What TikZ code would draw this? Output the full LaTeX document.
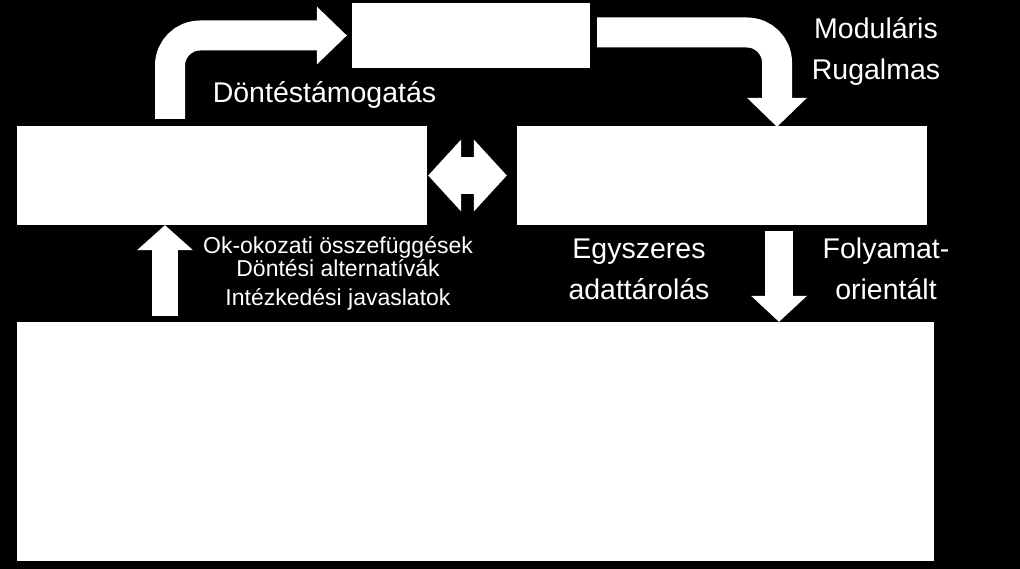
\documentclass[tikz,border=0pt]{standalone}
\usepackage{fontspec}
\setmainfont{Liberation Sans}
\usetikzlibrary{arrows.meta}

\begin{document}
\begin{tikzpicture}[x=1pt,y=-1pt,
 box/.style={fill=white,inner sep=0pt},
 blk/.style={white,line width=#1},
 lbl/.style={text=white,align=center,inner sep=0pt,font=\fontsize{28.5}{41}\selectfont},
 sml/.style={text=white,align=center,inner sep=0pt,font=\fontsize{23}{24}\selectfont}]
\fill[black] (0,0) rectangle (1020,569);
\useasboundingbox (0,0) rectangle (1020,569);
\node[box,minimum width=238,minimum height=65] (top) at (471,35.5) {};
\node[box,minimum width=410,minimum height=99] (lbox) at (222,175.5) {};
\node[box,minimum width=410,minimum height=99] (rbox) at (722,175.5) {};
\node[box,minimum width=917,minimum height=239] (bbox) at (475.5,441.5) {};
\coordinate (b1) at (170,119);
\coordinate (b2) at (597,32.5);
\coordinate (u1) at (165,316);
\coordinate (d1) at (779,231);
\draw[blk=30,rounded corners=30,-{Triangle[length=30,width=58,line width=0pt]}] (b1) |- ([xshift=-5]top.west);
\draw[blk=30,rounded corners=30,-{Triangle[length=29,width=60,line width=0pt]}] (b2) -| ([yshift=-1]rbox.north -| 777,0);
\draw[blk=37,{Triangle[length=33,width=72,line width=0pt]}-{Triangle[length=33,width=72,line width=0pt]}] ([xshift=1]lbox.east) -- ([xshift=-10]rbox.west);
\draw[blk=26,-{Triangle[length=25,width=56,line width=0pt]}] (u1) -- (lbox.south -| u1);
\draw[blk=28,-{Triangle[length=26,width=56,line width=0pt]}] (d1) -- (bbox.north -| d1);
\node[lbl,anchor=base] (dt) at (324.5,103) {Döntéstámogatás};
\node[lbl,anchor=base] (mr) at (876,80) {Moduláris\\Rugalmas};
\node[lbl,anchor=base] (ea) at (639,300) {Egyszeres\\adattárolás};
\node[lbl,anchor=base] (fo) at (886,300) {Folyamat-\\orientált};
\node[sml,anchor=base] (ok) at (338,306) {Ok-okozati összefüggések\\Döntési alternatívák\\[5pt]Intézkedési javaslatok};
\end{tikzpicture}
\end{document}
